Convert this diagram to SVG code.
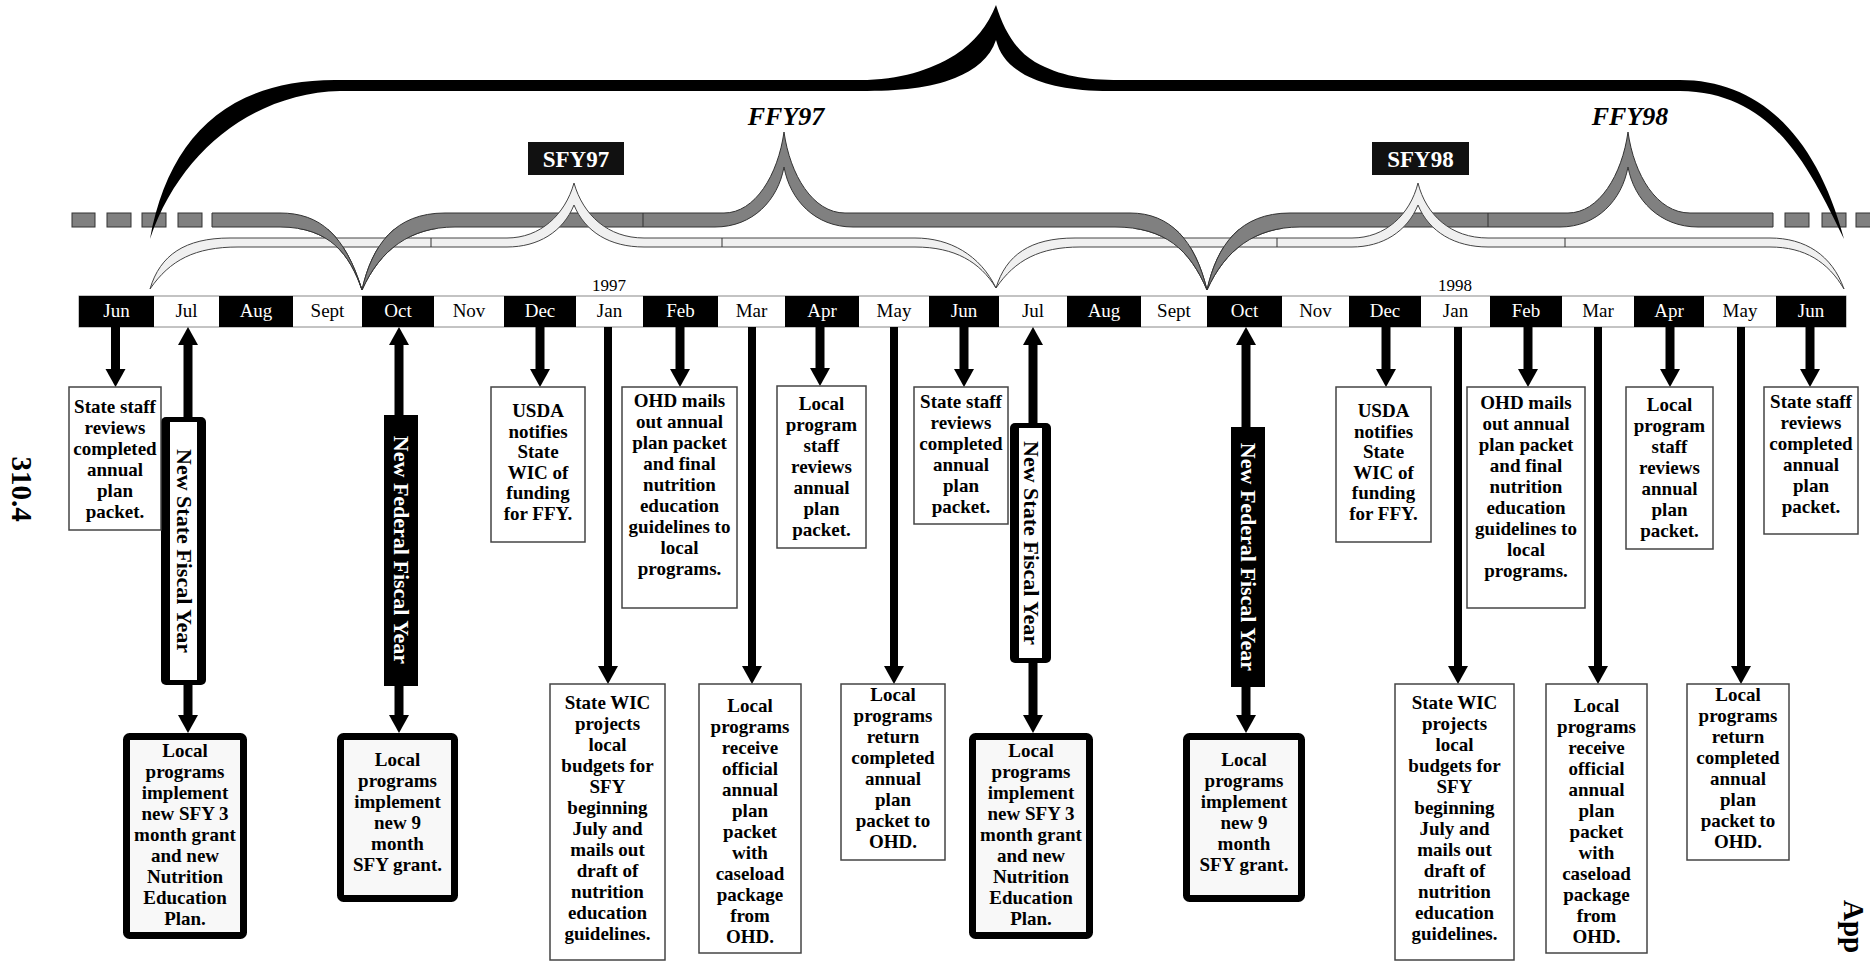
<svg xmlns="http://www.w3.org/2000/svg" width="1870" height="964" viewBox="0 0 1870 964">
<style>
text{font-family:"Liberation Serif","Times New Roman",serif}
.m{font-size:19px;text-anchor:middle}
.mb{fill:#fff}
.mw{fill:#000}
.yr{font-size:17px;text-anchor:middle}
.bx{fill:#fff;stroke:#444;stroke-width:1.5}
.tb{fill:#f8f8f8;stroke:#000;stroke-width:7}
.t{font-size:19px;font-weight:bold;text-anchor:middle;fill:#000}
.v{font-size:22px;font-weight:bold;text-anchor:middle}
.grey{fill:#808080;stroke:#333;stroke-width:1}
.light{fill:#f0f0f0;stroke:#444;stroke-width:1}
.div{stroke:#333;stroke-width:1}
.sh{stroke:#000;stroke-width:9;fill:none;marker-end:url(#ah)}
.sl{stroke:#000;stroke-width:8;fill:none;marker-end:url(#ah)}
.lab{font-size:23px;font-weight:bold;text-anchor:middle;fill:#fff}
.ffy{font-size:26px;font-weight:bold;font-style:italic;text-anchor:middle;fill:#000}
.side{font-size:29px;font-weight:bold;fill:#000}
</style>
<defs>
<marker id="ah" markerUnits="userSpaceOnUse" markerWidth="18" markerHeight="21" viewBox="0 -10.5 18 21" refX="0" refY="0" orient="auto">
<path d="M0,-10 L18,0 L0,10 Z" fill="#000"/>
</marker>
<clipPath id="lowclip"><rect x="0" y="229" width="1870" height="80"/></clipPath>
</defs>
<rect width="1870" height="964" fill="#fff"/>

<g id="braces">
<g id="ffy-grey">
<rect class="grey" x="72" y="213" width="23" height="14"/>
<rect class="grey" x="107" y="213" width="24" height="14"/>
<rect class="grey" x="142" y="213" width="24" height="14"/>
<rect class="grey" x="178" y="213" width="24" height="14"/>
<path class="grey" d="M212,213 L280,213 C320,213 345,235 362,290 C350,255 330,227 280,227 L212,227 Z"/>
<path class="grey" d="M362,290 C372,245 395,213 445,213 L724,213 C755,213 778,175 784,132 C790,175 813,213 845,213 L1130,213 C1170,213 1195,240 1207,290 C1190,250 1165,227 1115,227 L853,227 C815,227 790,200 784,167 C778,200 753,227 715,227 L455,227 C410,227 380,250 362,290 Z"/>
<path class="grey" d="M1207,290 C1217,245 1240,213 1290,213 L1568,213 C1599,213 1622,175 1628,132 C1634,175 1657,213 1690,213 L1773,213 L1773,227 L1698,227 C1660,227 1634,200 1628,167 C1622,200 1597,227 1560,227 L1300,227 C1255,227 1225,250 1207,290 Z"/>
<rect class="grey" x="1785" y="213" width="24" height="14"/>
<rect class="grey" x="1822" y="213" width="24" height="14"/>
<rect class="grey" x="1856" y="213" width="20" height="14"/>
<line class="div" x1="643" y1="213" x2="643" y2="227"/>
<line class="div" x1="1488" y1="213" x2="1488" y2="227"/>
</g>
<g id="sfy-light">
<path class="light" d="M150,289 C160,255 185,238 230,238 L507,238 C540,238 565,215 574,183 C583,215 608,238 644,238 L915,238 C950,238 980,255 996,288 C980,262 955,247 915,247 L644,247 C610,247 585,232 574,205 C563,232 538,247 507,247 L238,247 C195,247 170,260 150,289 Z"/>
<path class="light" d="M996,288 C1006,255 1030,238 1075,238 L1352,238 C1385,238 1410,215 1418,183 C1426,215 1451,238 1488,238 L1770,238 C1805,238 1832,255 1844,289 C1828,262 1805,247 1770,247 L1488,247 C1455,247 1429,232 1418,205 C1407,232 1382,247 1352,247 L1080,247 C1040,247 1015,260 996,288 Z"/>
<line class="div" x1="431" y1="238" x2="431" y2="247"/>
<line class="div" x1="722" y1="238" x2="722" y2="247"/>
<line class="div" x1="1277" y1="238" x2="1277" y2="247"/>
<line class="div" x1="1565" y1="238" x2="1565" y2="247"/>
</g>
<g id="ffy-grey-over" clip-path="url(#lowclip)">
<path class="grey" d="M212,213 L280,213 C320,213 345,235 362,290 C350,255 330,227 280,227 L212,227 Z"/>
<path class="grey" d="M362,290 C372,245 395,213 445,213 L724,213 C755,213 778,175 784,132 C790,175 813,213 845,213 L1130,213 C1170,213 1195,240 1207,290 C1190,250 1165,227 1115,227 L853,227 C815,227 790,200 784,167 C778,200 753,227 715,227 L455,227 C410,227 380,250 362,290 Z"/>
<path class="grey" d="M1207,290 C1217,245 1240,213 1290,213 L1568,213 C1599,213 1622,175 1628,132 C1634,175 1657,213 1690,213 L1773,213 L1773,227 L1698,227 C1660,227 1634,200 1628,167 C1622,200 1597,227 1560,227 L1300,227 C1255,227 1225,250 1207,290 Z"/>
</g>
<path id="big-brace" fill="#000" d="M150,239 C168,140 225,80 335,80 L860,80 C900,80 930,70 955,55 C975,42 988,25 996,5 C1004,30 1015,50 1035,62 C1060,76 1085,80 1120,80 L1680,80 C1755,80 1815,130 1844,239 C1810,170 1775,92 1680,91 L1110,91 C1070,91 1045,85 1025,75 C1008,65 1000,55 996,40 C990,58 975,70 955,78 C930,88 900,91 860,91 L340,91 C255,93 180,150 150,239 Z"/>
</g>

<g id="label-sfy97"><rect x="528" y="142" width="96" height="33" fill="#111"/><text class="lab" x="576" y="167">SFY97</text></g>
<g id="label-sfy98"><rect x="1372" y="142" width="97" height="33" fill="#111"/><text class="lab" x="1420.5" y="167">SFY98</text></g>
<g id="label-ffy97"><text class="ffy" x="786" y="125">FFY97</text></g>
<g id="label-ffy98"><text class="ffy" x="1630" y="125">FFY98</text></g>

<g id="months">
<rect x="79" y="296" width="1767" height="31" fill="#fff" stroke="#888" stroke-width="1"/>
<rect x="79" y="296" width="75" height="31" fill="#000"/>
<rect x="219" y="296" width="74" height="31" fill="#000"/>
<rect x="362" y="296" width="72" height="31" fill="#000"/>
<rect x="504" y="296" width="72" height="31" fill="#000"/>
<rect x="643" y="296" width="75" height="31" fill="#000"/>
<rect x="785" y="296" width="74" height="31" fill="#000"/>
<rect x="929" y="296" width="70" height="31" fill="#000"/>
<rect x="1067" y="296" width="74" height="31" fill="#000"/>
<rect x="1207" y="296" width="75" height="31" fill="#000"/>
<rect x="1349" y="296" width="72" height="31" fill="#000"/>
<rect x="1490" y="296" width="72" height="31" fill="#000"/>
<rect x="1634" y="296" width="70" height="31" fill="#000"/>
<rect x="1776" y="296" width="70" height="31" fill="#000"/>
<text class="m mb" x="116.5" y="317">Jun</text>
<text class="m mw" x="186.5" y="317">Jul</text>
<text class="m mb" x="256" y="317">Aug</text>
<text class="m mw" x="327.5" y="317">Sept</text>
<text class="m mb" x="398" y="317">Oct</text>
<text class="m mw" x="469" y="317">Nov</text>
<text class="m mb" x="540" y="317">Dec</text>
<text class="m mw" x="609.5" y="317">Jan</text>
<text class="m mb" x="680.5" y="317">Feb</text>
<text class="m mw" x="751.5" y="317">Mar</text>
<text class="m mb" x="822" y="317">Apr</text>
<text class="m mw" x="894" y="317">May</text>
<text class="m mb" x="964" y="317">Jun</text>
<text class="m mw" x="1033" y="317">Jul</text>
<text class="m mb" x="1104" y="317">Aug</text>
<text class="m mw" x="1174" y="317">Sept</text>
<text class="m mb" x="1244.5" y="317">Oct</text>
<text class="m mw" x="1315.5" y="317">Nov</text>
<text class="m mb" x="1385" y="317">Dec</text>
<text class="m mw" x="1455.5" y="317">Jan</text>
<text class="m mb" x="1526" y="317">Feb</text>
<text class="m mw" x="1598" y="317">Mar</text>
<text class="m mb" x="1669" y="317">Apr</text>
<text class="m mw" x="1740" y="317">May</text>
<text class="m mb" x="1811" y="317">Jun</text>
<text class="yr" x="609" y="291">1997</text>
<text class="yr" x="1455" y="291">1998</text>
</g>

<g id="connectors">
<line class="sh" x1="115.5" y1="327" x2="115.5" y2="369"/>
<line class="sh" x1="540" y1="327" x2="540" y2="369"/>
<line class="sh" x1="680" y1="327" x2="680" y2="369"/>
<line class="sh" x1="820" y1="327" x2="820" y2="368"/>
<line class="sh" x1="964" y1="327" x2="964" y2="369"/>
<line class="sh" x1="1386" y1="327" x2="1386" y2="369"/>
<line class="sh" x1="1528" y1="327" x2="1528" y2="369"/>
<line class="sh" x1="1670" y1="327" x2="1670" y2="369"/>
<line class="sh" x1="1810" y1="327" x2="1810" y2="369"/>
<line class="sl" x1="608" y1="327" x2="608" y2="666"/>
<line class="sl" x1="752" y1="327" x2="752" y2="666"/>
<line class="sl" x1="894" y1="327" x2="894" y2="666"/>
<line class="sl" x1="1458" y1="327" x2="1458" y2="666"/>
<line class="sl" x1="1598" y1="327" x2="1598" y2="666"/>
<line class="sl" x1="1741" y1="327" x2="1741" y2="666"/>
<line class="sh" x1="188" y1="417" x2="188" y2="345"/>
<line class="sh" x1="188" y1="685" x2="188" y2="715"/>
<line class="sh" x1="399" y1="415" x2="399" y2="345"/>
<line class="sh" x1="399" y1="686" x2="399" y2="715"/>
<line class="sh" x1="1033" y1="423" x2="1033" y2="345"/>
<line class="sh" x1="1033" y1="663" x2="1033" y2="715"/>
<line class="sh" x1="1246" y1="427" x2="1246" y2="345"/>
<line class="sh" x1="1246" y1="687" x2="1246" y2="715"/>
</g>

<g id="nsfy1"><rect x="161" y="417" width="45" height="268" rx="5" fill="#000"/><rect x="170" y="422" width="27" height="258" fill="#fff"/><text class="v" x="183.5" y="558" fill="#000" transform="rotate(90 183.5 551)">New State Fiscal Year</text></g>
<g id="nffy1"><rect x="384" y="415" width="34" height="271" fill="#000"/><text class="v" x="401" y="557" fill="#fff" transform="rotate(90 401 550)">New Federal Fiscal Year</text></g>
<g id="nsfy2"><rect x="1010" y="423" width="41" height="240" rx="5" fill="#000"/><rect x="1019" y="428" width="23" height="230" fill="#fff"/><text class="v" x="1030.5" y="550" fill="#000" transform="rotate(90 1030.5 543)">New State Fiscal Year</text></g>
<g id="nffy2"><rect x="1231" y="427" width="34" height="260" fill="#000"/><text class="v" x="1248" y="564" fill="#fff" transform="rotate(90 1248 557)">New Federal Fiscal Year</text></g>

<g id="b-jun96"><rect class="bx" x="69" y="387" width="92" height="143"/>
<text class="t"><tspan x="115" y="413">State staff</tspan><tspan x="115" y="434">reviews</tspan><tspan x="115" y="455">completed</tspan><tspan x="115" y="476">annual</tspan><tspan x="115" y="497">plan</tspan><tspan x="115" y="518">packet.</tspan></text></g>

<g id="b-dec96"><rect class="bx" x="491" y="387" width="94" height="155"/>
<text class="t"><tspan x="538" y="417">USDA</tspan><tspan x="538" y="437.6">notifies</tspan><tspan x="538" y="458.2">State</tspan><tspan x="538" y="478.8">WIC of</tspan><tspan x="538" y="499.4">funding</tspan><tspan x="538" y="520">for FFY.</tspan></text></g>

<g id="b-feb97"><rect class="bx" x="622" y="387" width="115" height="221"/>
<text class="t"><tspan x="679.5" y="407">OHD mails</tspan><tspan x="679.5" y="428">out annual</tspan><tspan x="679.5" y="449">plan packet</tspan><tspan x="679.5" y="470">and final</tspan><tspan x="679.5" y="491">nutrition</tspan><tspan x="679.5" y="512">education</tspan><tspan x="679.5" y="533">guidelines to</tspan><tspan x="679.5" y="554">local</tspan><tspan x="679.5" y="575">programs.</tspan></text></g>

<g id="b-apr97"><rect class="bx" x="777" y="386" width="89" height="162"/>
<text class="t"><tspan x="821.5" y="410">Local</tspan><tspan x="821.5" y="431">program</tspan><tspan x="821.5" y="452">staff</tspan><tspan x="821.5" y="473">reviews</tspan><tspan x="821.5" y="494">annual</tspan><tspan x="821.5" y="515">plan</tspan><tspan x="821.5" y="536">packet.</tspan></text></g>

<g id="b-jun97"><rect class="bx" x="914" y="387" width="94" height="137"/>
<text class="t"><tspan x="961" y="408">State staff</tspan><tspan x="961" y="429">reviews</tspan><tspan x="961" y="450">completed</tspan><tspan x="961" y="471">annual</tspan><tspan x="961" y="492">plan</tspan><tspan x="961" y="513">packet.</tspan></text></g>

<g id="b-dec97"><rect class="bx" x="1336" y="387" width="95" height="155"/>
<text class="t"><tspan x="1383.5" y="417">USDA</tspan><tspan x="1383.5" y="437.6">notifies</tspan><tspan x="1383.5" y="458.2">State</tspan><tspan x="1383.5" y="478.8">WIC of</tspan><tspan x="1383.5" y="499.4">funding</tspan><tspan x="1383.5" y="520">for FFY.</tspan></text></g>

<g id="b-feb98"><rect class="bx" x="1467" y="387" width="118" height="221"/>
<text class="t"><tspan x="1526" y="409">OHD mails</tspan><tspan x="1526" y="430">out annual</tspan><tspan x="1526" y="451">plan packet</tspan><tspan x="1526" y="472">and final</tspan><tspan x="1526" y="493">nutrition</tspan><tspan x="1526" y="514">education</tspan><tspan x="1526" y="535">guidelines to</tspan><tspan x="1526" y="556">local</tspan><tspan x="1526" y="577">programs.</tspan></text></g>

<g id="b-apr98"><rect class="bx" x="1626" y="387" width="87" height="162"/>
<text class="t"><tspan x="1669.5" y="411">Local</tspan><tspan x="1669.5" y="432">program</tspan><tspan x="1669.5" y="453">staff</tspan><tspan x="1669.5" y="474">reviews</tspan><tspan x="1669.5" y="495">annual</tspan><tspan x="1669.5" y="516">plan</tspan><tspan x="1669.5" y="537">packet.</tspan></text></g>

<g id="b-jun98"><rect class="bx" x="1764" y="387" width="94" height="147"/>
<text class="t"><tspan x="1811" y="408">State staff</tspan><tspan x="1811" y="429">reviews</tspan><tspan x="1811" y="450">completed</tspan><tspan x="1811" y="471">annual</tspan><tspan x="1811" y="492">plan</tspan><tspan x="1811" y="513">packet.</tspan></text></g>

<g id="b-jan97"><rect class="bx" x="550" y="684" width="115" height="276"/>
<text class="t"><tspan x="607.5" y="709">State WIC</tspan><tspan x="607.5" y="730">projects</tspan><tspan x="607.5" y="751">local</tspan><tspan x="607.5" y="772">budgets for</tspan><tspan x="607.5" y="793">SFY</tspan><tspan x="607.5" y="814">beginning</tspan><tspan x="607.5" y="835">July and</tspan><tspan x="607.5" y="856">mails out</tspan><tspan x="607.5" y="877">draft of</tspan><tspan x="607.5" y="898">nutrition</tspan><tspan x="607.5" y="919">education</tspan><tspan x="607.5" y="940">guidelines.</tspan></text></g>

<g id="b-mar97"><rect class="bx" x="699" y="684" width="102" height="269"/>
<text class="t"><tspan x="750" y="712">Local</tspan><tspan x="750" y="733">programs</tspan><tspan x="750" y="754">receive</tspan><tspan x="750" y="775">official</tspan><tspan x="750" y="796">annual</tspan><tspan x="750" y="817">plan</tspan><tspan x="750" y="838">packet</tspan><tspan x="750" y="859">with</tspan><tspan x="750" y="880">caseload</tspan><tspan x="750" y="901">package</tspan><tspan x="750" y="922">from</tspan><tspan x="750" y="943">OHD.</tspan></text></g>

<g id="b-may97"><rect class="bx" x="841" y="684" width="104" height="176"/>
<text class="t"><tspan x="893" y="701">Local</tspan><tspan x="893" y="722">programs</tspan><tspan x="893" y="743">return</tspan><tspan x="893" y="764">completed</tspan><tspan x="893" y="785">annual</tspan><tspan x="893" y="806">plan</tspan><tspan x="893" y="827">packet to</tspan><tspan x="893" y="848">OHD.</tspan></text></g>

<g id="b-jan98"><rect class="bx" x="1395" y="684" width="119" height="276"/>
<text class="t"><tspan x="1454.5" y="709">State WIC</tspan><tspan x="1454.5" y="730">projects</tspan><tspan x="1454.5" y="751">local</tspan><tspan x="1454.5" y="772">budgets for</tspan><tspan x="1454.5" y="793">SFY</tspan><tspan x="1454.5" y="814">beginning</tspan><tspan x="1454.5" y="835">July and</tspan><tspan x="1454.5" y="856">mails out</tspan><tspan x="1454.5" y="877">draft of</tspan><tspan x="1454.5" y="898">nutrition</tspan><tspan x="1454.5" y="919">education</tspan><tspan x="1454.5" y="940">guidelines.</tspan></text></g>

<g id="b-mar98"><rect class="bx" x="1546" y="684" width="101" height="269"/>
<text class="t"><tspan x="1596.5" y="712">Local</tspan><tspan x="1596.5" y="733">programs</tspan><tspan x="1596.5" y="754">receive</tspan><tspan x="1596.5" y="775">official</tspan><tspan x="1596.5" y="796">annual</tspan><tspan x="1596.5" y="817">plan</tspan><tspan x="1596.5" y="838">packet</tspan><tspan x="1596.5" y="859">with</tspan><tspan x="1596.5" y="880">caseload</tspan><tspan x="1596.5" y="901">package</tspan><tspan x="1596.5" y="922">from</tspan><tspan x="1596.5" y="943">OHD.</tspan></text></g>

<g id="b-may98"><rect class="bx" x="1687" y="684" width="102" height="176"/>
<text class="t"><tspan x="1738" y="701">Local</tspan><tspan x="1738" y="722">programs</tspan><tspan x="1738" y="743">return</tspan><tspan x="1738" y="764">completed</tspan><tspan x="1738" y="785">annual</tspan><tspan x="1738" y="806">plan</tspan><tspan x="1738" y="827">packet to</tspan><tspan x="1738" y="848">OHD.</tspan></text></g>

<g id="tb-jul96"><rect class="tb" x="126.5" y="736.5" width="117" height="199" rx="3"/>
<text class="t"><tspan x="185" y="757">Local</tspan><tspan x="185" y="778">programs</tspan><tspan x="185" y="799">implement</tspan><tspan x="185" y="820">new SFY 3</tspan><tspan x="185" y="841">month grant</tspan><tspan x="185" y="862">and new</tspan><tspan x="185" y="883">Nutrition</tspan><tspan x="185" y="904">Education</tspan><tspan x="185" y="925">Plan.</tspan></text></g>

<g id="tb-oct96"><rect class="tb" x="340.5" y="736.5" width="114" height="162" rx="3"/>
<text class="t"><tspan x="397.5" y="766">Local</tspan><tspan x="397.5" y="787">programs</tspan><tspan x="397.5" y="808">implement</tspan><tspan x="397.5" y="829">new 9</tspan><tspan x="397.5" y="850">month</tspan><tspan x="397.5" y="871">SFY grant.</tspan></text></g>

<g id="tb-jul97"><rect class="tb" x="972.5" y="736.5" width="117" height="199" rx="3"/>
<text class="t"><tspan x="1031" y="757">Local</tspan><tspan x="1031" y="778">programs</tspan><tspan x="1031" y="799">implement</tspan><tspan x="1031" y="820">new SFY 3</tspan><tspan x="1031" y="841">month grant</tspan><tspan x="1031" y="862">and new</tspan><tspan x="1031" y="883">Nutrition</tspan><tspan x="1031" y="904">Education</tspan><tspan x="1031" y="925">Plan.</tspan></text></g>

<g id="tb-oct97"><rect class="tb" x="1186.5" y="736.5" width="115" height="162" rx="3"/>
<text class="t"><tspan x="1244" y="766">Local</tspan><tspan x="1244" y="787">programs</tspan><tspan x="1244" y="808">implement</tspan><tspan x="1244" y="829">new 9</tspan><tspan x="1244" y="850">month</tspan><tspan x="1244" y="871">SFY grant.</tspan></text></g>

<g id="page-marks">
<text class="side" x="22" y="489" text-anchor="middle" dy="10" transform="rotate(90 22 489)">310.4</text>
<text class="side" x="1853" y="900" text-anchor="start" dy="9" font-size="26" transform="rotate(90 1853 900)">App</text>
</g>
</svg>
